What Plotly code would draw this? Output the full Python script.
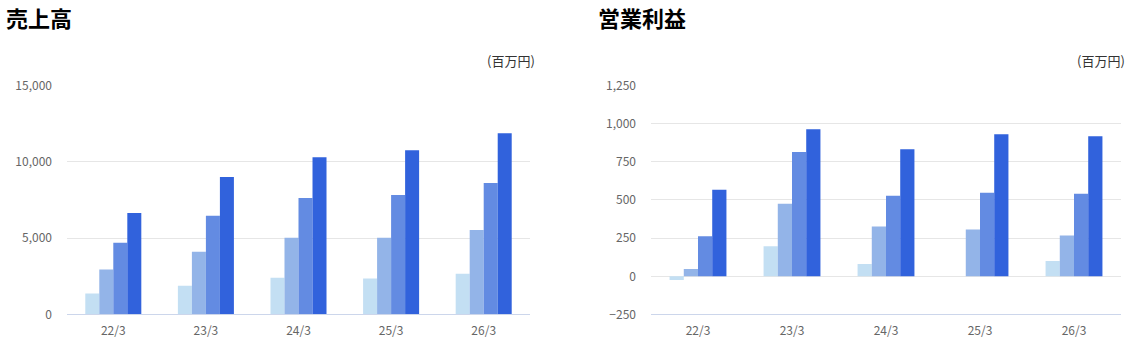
import plotly.graph_objects as go

categories = ["22/3", "23/3", "24/3", "25/3", "26/3"]
series_names = ["1Q", "2Q", "3Q", "4Q"]
colors = ["#c3dff3", "#93b4e8", "#638be2", "#3162dc"]

sales_1q = [1370, 1890, 2410, 2350, 2670]
sales_2q = [2940, 4110, 5020, 5020, 5540]
sales_3q = [4700, 6460, 7630, 7830, 8610]
sales_4q = [6650, 9000, 10300, 10760, 11870]

op_1q = [-24, 197, 80, None, 100]
op_2q = [48, 476, 327, 307, 268]
op_3q = [262, 814, 528, 548, 541]
op_4q = [567, 963, 833, 931, 918]

W, H = 1130, 338
FONT = "Noto Sans CJK JP"


def py(screen_y):
    # paper fraction for a target on-screen y (rendered paper spans ~8.5..330 px)
    return 1 - ((screen_y - 8.5) / 0.953) / H


fig = go.Figure()
sales = [sales_1q, sales_2q, sales_3q, sales_4q]
ops = [op_1q, op_2q, op_3q, op_4q]
for name, col, vals in zip(series_names, colors, sales):
    fig.add_trace(go.Bar(x=categories, y=vals, name=name, marker_color=col,
                         marker_line_width=0, xaxis="x", yaxis="y", showlegend=False))
for name, col, vals in zip(series_names, colors, ops):
    fig.add_trace(go.Bar(x=categories, y=vals, name=name, marker_color=col,
                         marker_line_width=0, xaxis="x2", yaxis="y2", showlegend=False))

ydom = [py(315), py(84.5)]
tickfont = dict(family=FONT, size=12, color="#666666")

fig.update_layout(
    width=W, height=H, autosize=False,
    margin=dict(l=0, r=0, t=0, b=0, pad=0),
    paper_bgcolor="white", plot_bgcolor="white",
    barmode="group", bargap=0.395, bargroupgap=0,
    font=dict(family=FONT),
    xaxis=dict(domain=[67 / W, 530 / W], anchor="y", showline=True, linecolor="#ccd6eb",
               linewidth=1, showgrid=False, tickfont=tickfont, ticks="", ticklabelstandoff=5),
    yaxis=dict(domain=ydom, anchor="x", range=[0, 15000], dtick=5000, tickformat=",",
               showgrid=True, gridcolor="#e6e6e6", zeroline=False, tickfont=tickfont,
               ticklabelstandoff=14),
    xaxis2=dict(domain=[651 / W, 1121 / W], anchor="y2", showline=True, linecolor="#ccd6eb",
                linewidth=1, showgrid=False, tickfont=tickfont, ticks="", ticklabelstandoff=5),
    yaxis2=dict(domain=ydom, anchor="x2", range=[-250, 1250], dtick=250, tickformat=",",
                showgrid=True, gridcolor="#e6e6e6", zeroline=False, tickfont=tickfont,
                ticklabelstandoff=14),
    annotations=[
        dict(text="<b>売上高</b>", x=4 / W, y=py(16), xref="paper", yref="paper",
             xanchor="left", yanchor="middle", showarrow=False,
             font=dict(family=FONT, size=22, color="#000000")),
        dict(text="<b>営業利益</b>", x=596 / W, y=py(16), xref="paper", yref="paper",
             xanchor="left", yanchor="middle", showarrow=False,
             font=dict(family=FONT, size=22, color="#000000")),
        dict(text="(百万円)", x=537 / W, y=py(59.5), xref="paper", yref="paper",
             xanchor="right", yanchor="middle", showarrow=False,
             font=dict(family=FONT, size=13, color="#333333")),
        dict(text="(百万円)", x=1127 / W, y=py(59.5), xref="paper", yref="paper",
             xanchor="right", yanchor="middle", showarrow=False,
             font=dict(family=FONT, size=13, color="#333333")),
    ],
)

fig.write_html("out.html")
